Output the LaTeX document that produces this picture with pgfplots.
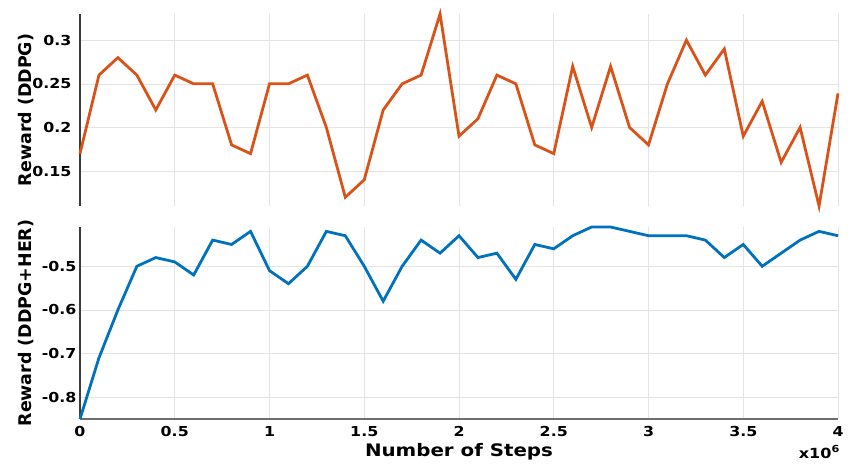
\documentclass[border=0pt]{standalone}
\usepackage{pgfplots}
\pgfplotsset{compat=1.18}
\usepackage{fontspec}
\setmainfont{DejaVu Sans}
\newfontfamily\wide{DejaVu Sans}[FakeStretch=1.15]
\definecolor{morange}{RGB}{217,83,25}
\definecolor{mblue}{RGB}{0,114,189}
\definecolor{gridc}{RGB}{228,228,228}
\begin{document}
\begin{tikzpicture}
\useasboundingbox (-80bp,-45bp) rectangle (770bp,419bp);
\pgfplotsset{
  common/.style={
    scale only axis,
    width=758bp, height=192bp,
    xmin=0, xmax=4,
    xtick={0,0.5,1,1.5,2,2.5,3,3.5,4},
    grid=major,
    major grid style={gridc, line width=0.6pt},
    major tick length=0pt,
    axis y line*=left, axis x line*=bottom,
    axis line style={-, line width=1.3pt, draw={rgb,255:red,60;green,60;blue,60}},
    tick label style={font=\wide\bfseries\fontsize{13.8}{15}\selectfont},
    xticklabel style={yshift=-4bp},
    ylabel style={font=\bfseries\fontsize{17.5}{19}\selectfont, anchor=center},
    /pgf/number format/assume math mode=true,
    clip=false,
  }
}
\begin{axis}[common, at={(0,213bp)}, anchor=south west,
  ymin=0.11, ymax=0.33,
  ytick={0.15,0.2,0.25,0.3},
  yticklabels={0.15,0.2,0.25,0.3},
  yticklabel style={xshift=-5bp},
  xticklabels={},
  x axis line style={draw=none},
  ylabel={Reward (DDPG)},
  ylabel style={at={(axis description cs:-0.0715,0.5)}},
]
\addplot[morange, line width=2.8pt] coordinates {
(0,0.17)(0.1,0.26)(0.2,0.28)(0.3,0.26)(0.4,0.22)(0.5,0.26)(0.6,0.25)(0.7,0.25)(0.8,0.18)(0.9,0.17)
(1.0,0.25)(1.1,0.25)(1.2,0.26)(1.3,0.20)(1.4,0.12)(1.5,0.14)(1.6,0.22)(1.7,0.25)(1.8,0.26)(1.9,0.33)
(2.0,0.19)(2.1,0.21)(2.2,0.26)(2.3,0.25)(2.4,0.18)(2.5,0.17)(2.6,0.27)(2.7,0.20)(2.8,0.27)(2.9,0.20)
(3.0,0.18)(3.1,0.25)(3.2,0.30)(3.3,0.26)(3.4,0.29)(3.5,0.19)(3.6,0.23)(3.7,0.16)(3.8,0.20)(3.9,0.11)
(4.0,0.239)
};
\end{axis}
\begin{axis}[common, at={(0,0)}, anchor=south west,
  ymin=-0.85, ymax=-0.41,
  ytick={-0.8,-0.7,-0.6,-0.5},
  yticklabels={-0.8,-0.7,-0.6,-0.5},
  xticklabels={0,0.5,1,1.5,2,2.5,3,3.5,4},
  x axis line style={draw={rgb,255:red,110;green,110;blue,110}},
  ylabel={Reward (DDPG+HER)},
  ylabel style={at={(axis description cs:-0.0715,0.5)}},
  xlabel={Number of Steps},
  xlabel style={font=\wide\bfseries\fontsize{17.3}{19}\selectfont, at={(axis description cs:0.5,-0.172)}, anchor=center},
]
\addplot[mblue, line width=2.8pt] coordinates {
(0,-0.85)(0.1,-0.71)(0.2,-0.60)(0.3,-0.50)(0.4,-0.48)(0.5,-0.49)(0.6,-0.52)(0.7,-0.44)(0.8,-0.45)(0.9,-0.42)
(1.0,-0.51)(1.1,-0.54)(1.2,-0.50)(1.3,-0.42)(1.4,-0.43)(1.5,-0.50)(1.6,-0.58)(1.7,-0.50)(1.8,-0.44)(1.9,-0.47)
(2.0,-0.43)(2.1,-0.48)(2.2,-0.47)(2.3,-0.53)(2.4,-0.45)(2.5,-0.46)(2.6,-0.43)(2.7,-0.41)(2.8,-0.41)(2.9,-0.42)
(3.0,-0.43)(3.1,-0.43)(3.2,-0.43)(3.3,-0.44)(3.4,-0.48)(3.5,-0.45)(3.6,-0.50)(3.7,-0.47)(3.8,-0.44)(3.9,-0.42)
(4.0,-0.43)
};
\node[font=\wide\bfseries\fontsize{14}{15}\selectfont, anchor=east, inner sep=0pt] at (axis description cs:1.0027,-0.172) {x10\textsuperscript{6}};
\end{axis}
\end{tikzpicture}
\end{document}
